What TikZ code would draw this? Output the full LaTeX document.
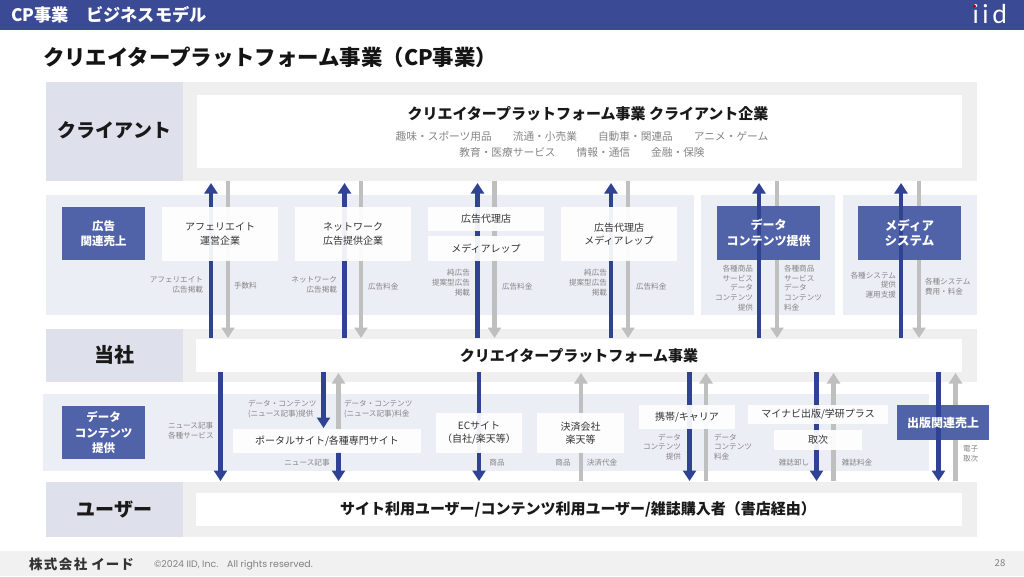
\documentclass[tikz,border=0pt]{standalone}
\usepackage{fontspec}
\setmainfont{Noto Sans CJK JP}
\newfontfamily\jp{Noto Sans CJK JP}
\newfontfamily\latinf{Poppins}
\newfontfamily\logof[LetterSpace=14]{Lato}
\usetikzlibrary{arrows.meta}
\definecolor{navy}{HTML}{3A4A94}
\definecolor{arrownavy}{HTML}{2F4392}
\definecolor{arrowgray}{HTML}{BFBFBF}
\definecolor{rowgray}{HTML}{EFEFEF}
\definecolor{labelbg}{HTML}{DEE0EB}
\definecolor{band}{HTML}{ECEEF6}
\definecolor{bluebox}{HTML}{5062A8}
\definecolor{smalltext}{HTML}{858585}
\definecolor{foot}{HTML}{F1F1F1}
\tikzset{
  rect/.style={draw=none,inner sep=0pt,outer sep=0pt},
  plain/.style={inner sep=0pt,outer sep=0pt,align=center},
  whitebox/.style={fill=white,fill opacity=.93,text opacity=1,rect},
  small/.style={plain,text=smalltext,font=\jp\fontsize{7.6}{9.9}\selectfont},
  smallr/.style={small,align=right,anchor=east},
  smalll/.style={small,align=left,anchor=west},
  boxtext/.style={plain,text=black!80,font=\jp\fontsize{10}{13.5}\selectfont},
  bluetext/.style={plain,text=white,font=\jp\bfseries\fontsize{#1}{15.5}\selectfont},
  headlabel/.style={plain,text=black!90,font=\jp\bfseries\fontsize{19}{24}\selectfont},
  main/.style={plain,text=black!90,font=\jp\bfseries\fontsize{15}{18}\selectfont},
  navyflow/.style={draw=arrownavy,line width=4.4pt,-{Triangle[length=10.5pt,width=13pt]}},
  grayflow/.style={draw=arrowgray,line width=4.4pt,-{Triangle[length=10.5pt,width=13pt]}},
}
\newcommand{\flow}[5]{% name, x, y from, y to, style
  \coordinate (#1a) at (#2,#3);
  \coordinate (#1b) at (#2,#4);
  \draw[#5] (#1a) -- (#1b);
}
\newcommand{\abox}[6][whitebox]{% style, name, x0,y0,x1,y1
  \path[#1] (#3,#4) rectangle (#5,#6);
  \coordinate (#2) at ({(#3+#5)/2},{(#4+#6)/2});
}
\begin{document}
\begin{tikzpicture}[x=1pt,y=-1pt]
\useasboundingbox (0,0) rectangle (1024,576);
\fill[white] (0,0) rectangle (1024,576);
% header
\fill[navy] (0,0) rectangle (1024,29.5);
\node[plain,anchor=west,text=white,font=\jp\bfseries\fontsize{17.2}{20}\selectfont] (head) at (11.5,14.5) {CP事業　ビジネスモデル};
\node[plain,anchor=west,text=white,font=\logof\fontsize{26}{30}\selectfont] (logo) at (972.5,14) {iid};
\fill[red!70!black] (974.5,6.3) circle (1.8pt);
% title
\node[plain,anchor=west,text=black!92,font=\jp\bfseries\fontsize{21.4}{26}\selectfont] (title) at (43,57) {クリエイタープラットフォーム事業（CP事業）};
% rows
\fill[rowgray] (46,82) rectangle (977,181);
\fill[labelbg] (46,82) rectangle (183,181);
\fill[white] (197,95) rectangle (962,168);
\fill[band] (46,195) rectangle (694,315);
\fill[band] (701,195) rectangle (835,315);
\fill[band] (843,195) rectangle (977,315);
\fill[rowgray] (46,329) rectangle (977,382);
\fill[labelbg] (46,329) rectangle (183,382);
\fill[white] (196,339) rectangle (962,372);
\fill[band] (43,394) rectangle (929,471);
\fill[rowgray] (46,482) rectangle (977,537);
\fill[labelbg] (46,482) rectangle (183,537);
\fill[white] (196,493) rectangle (962,526);
% footer
\fill[foot] (0,551) rectangle (1024,576);
% gray flows first, then the upper boxes
\flow{g1}{228}{181}{338}{grayflow}
\flow{g2}{361}{181}{338}{grayflow}
\flow{g3}{494.5}{181}{338}{grayflow}
\flow{g4}{628}{181}{338}{grayflow}
\flow{g5}{777}{181}{338}{grayflow}
\flow{g6}{919}{181}{338}{grayflow}
\flow{n1}{211}{338}{183}{navyflow}
\flow{n2}{344.5}{338}{183}{navyflow}
\flow{n3}{477.5}{338}{183}{navyflow}
\flow{n4}{611}{338}{183}{navyflow}
% lower flows
\flow{l1}{220.5}{372}{481}{navyflow}
\flow{l2}{323.5}{372}{428}{navyflow}
\flow{l3}{338.5}{431}{373}{grayflow}
\flow{l4}{338.5}{452}{481}{navyflow}
\flow{l5}{479}{372}{481}{navyflow}
\flow{l6}{581}{481}{373}{grayflow}
\flow{l7}{689.5}{372}{481}{navyflow}
\flow{l8}{706}{481}{373}{grayflow}
\flow{l9}{816.5}{372}{481}{navyflow}
\flow{l10}{833.5}{481}{373}{grayflow}
\flow{l11}{955.5}{481}{373}{grayflow}
% boxes
\abox{bAff}{162}{207}{278}{261}
\abox{bNet}{295}{207}{411}{261}
\abox{bAg}{428}{207}{544}{231}
\abox{bRep}{428}{236}{544}{261}
\abox{bAgRep}{561}{207}{677}{261}
\abox{bPortal}{233}{429}{421}{453}
\abox{bEC}{436}{413}{522}{453}
\abox{bPay}{537}{413}{624}{453}
\abox{bCarrier}{639}{405}{735}{429}
\abox{bMyna}{748}{405}{888}{424}
\abox{bTori}{774}{430}{862}{450}
\abox[fill=bluebox]{bAdSales}{62}{207}{145}{260}
\abox[fill=bluebox]{bData}{717}{206}{820}{260}
\abox[fill=bluebox]{bSys}{858}{206}{961}{260}
\abox[fill=bluebox]{bDataB}{62}{406}{145}{459}
\abox[fill=bluebox]{bPub}{897}{405}{989}{440}
% navy flows that pass over the coloured boxes
\flow{n5}{759}{338}{183}{navyflow}
\flow{n6}{901}{338}{183}{navyflow}
\flow{l12}{938.5}{372}{481}{navyflow}
% main labels
\node[headlabel] (tClient) at (114.5,130.5) {クライアント};
\node[headlabel,font=\jp\bfseries\fontsize{20}{24}\selectfont] (tUs) at (114.5,355) {当社};
\node[headlabel] (tUser) at (114.5,509.5) {ユーザー};
\node[main] (tC) at (588,114) {クリエイタープラットフォーム事業 クライアント企業};
\node[plain,text=smalltext,font=\jp\fontsize{10.7}{13}\selectfont] (tCa) at (582,136) {趣味・スポーツ用品\hspace{21pt}流通・小売業\hspace{21pt}自動車・関連品\hspace{21pt}アニメ・ゲーム};
\node[plain,text=smalltext,font=\jp\fontsize{10.7}{13}\selectfont] (tCb) at (582,152) {教育・医療サービス\hspace{21pt}情報・通信\hspace{21pt}金融・保険};
\node[main] (tP) at (579,355.5) {クリエイタープラットフォーム事業};
\node[main] (tU) at (578,509.5) {サイト利用ユーザー/コンテンツ利用ユーザー/雑誌購入者（書店経由）};
% box texts
\node[boxtext] (xAff) at (bAff) {アフェリエイト\\運営企業};
\node[boxtext] (xNet) at (bNet) {ネットワーク\\広告提供企業};
\node[boxtext] (xAg) at (bAg) {広告代理店};
\node[boxtext] (xRep) at (bRep) {メディアレップ};
\node[boxtext] (xAgRep) at (bAgRep) {広告代理店\\メディアレップ};
\node[boxtext] (xPortal) at (bPortal) {ポータルサイト/各種専門サイト};
\node[boxtext] (xEC) at (bEC) {ECサイト\\（自社/楽天等）};
\node[boxtext] (xPay) at (bPay) {決済会社\\楽天等};
\node[boxtext] (xCarrier) at (bCarrier) {携帯/キャリア};
\node[boxtext] (xMyna) at (bMyna) {マイナビ出版/学研プラス};
\node[boxtext] (xTori) at (bTori) {取次};
\node[bluetext=11.5] (xAdSales) at (bAdSales) {広告\\関連売上};
\node[bluetext=12] (xData) at (bData) {データ\\コンテンツ提供};
\node[bluetext=12.5] (xSys) at (bSys) {メディア\\システム};
\node[bluetext=11.5] (xDataB) at (bDataB) {データ\\コンテンツ\\提供};
\node[bluetext=12] (xPub) at (bPub) {出版関連売上};
% small flow labels
\node[smallr] (s1) at (203,285) {アフェリエイト\\広告掲載};
\node[smalll] (s2) at (234,286) {手数料};
\node[smallr] (s3) at (337,285) {ネットワーク\\広告掲載};
\node[smalll] (s4) at (368,286.5) {広告料金};
\node[smallr] (s5) at (470,283) {純広告\\提案型広告\\掲載};
\node[smalll] (s6) at (502,287) {広告料金};
\node[smallr] (s7) at (607,283) {純広告\\提案型広告\\掲載};
\node[smalll] (s8) at (636,287) {広告料金};
\node[smallr] (s9) at (753,288) {各種商品\\サービス\\データ\\コンテンツ\\提供};
\node[smalll] (s10) at (784,288) {各種商品\\サービス\\データ\\コンテンツ\\料金};
\node[smallr] (s11) at (896,285) {各種システム\\提供\\運用支援};
\node[smalll] (s12) at (925,287) {各種システム\\費用・料金};
\node[smalll] (s13) at (248,409) {データ・コンテンツ\\(ニュース記事)提供};
\node[smalll] (s14) at (344,409) {データ・コンテンツ\\(ニュース記事)料金};
\node[smalll] (s15) at (168,431) {ニュース記事\\各種サービス};
\node[small] (s16) at (307,463) {ニュース記事};
\node[small] (s17) at (497,462.5) {商品};
\node[small] (s18) at (563,462.5) {商品};
\node[small] (s19) at (602,462.5) {決済代金};
\node[smallr] (s20) at (681,447) {データ\\コンテンツ\\提供};
\node[smalll] (s21) at (714,447) {データ\\コンテンツ\\料金};
\node[small] (s22) at (794,463) {雑誌卸し};
\node[small] (s23) at (857,463) {雑誌料金};
\node[smalll] (s24) at (963,454) {電子\\取次};
% footer texts
\node[plain,anchor=west,text=black!80,font=\jp\bfseries\fontsize{13.5}{16}\selectfont] (fCo) at (29,564) {株\hspace{1.5pt}式\hspace{1.5pt}会\hspace{1.5pt}社\hspace{4pt}イ\hspace{1pt}ー\hspace{1pt}ド};
\node[plain,anchor=west,text=black!50,font=\latinf\fontsize{9.4}{12}\selectfont] (fCopy) at (154,565.5) {©2024 IID, Inc.\hspace{9pt}All rights reserved.};
\node[plain,text=black!50,font=\jp\fontsize{9.5}{11}\selectfont] (fPage) at (1000,563) {28};
\end{tikzpicture}
\end{document}
